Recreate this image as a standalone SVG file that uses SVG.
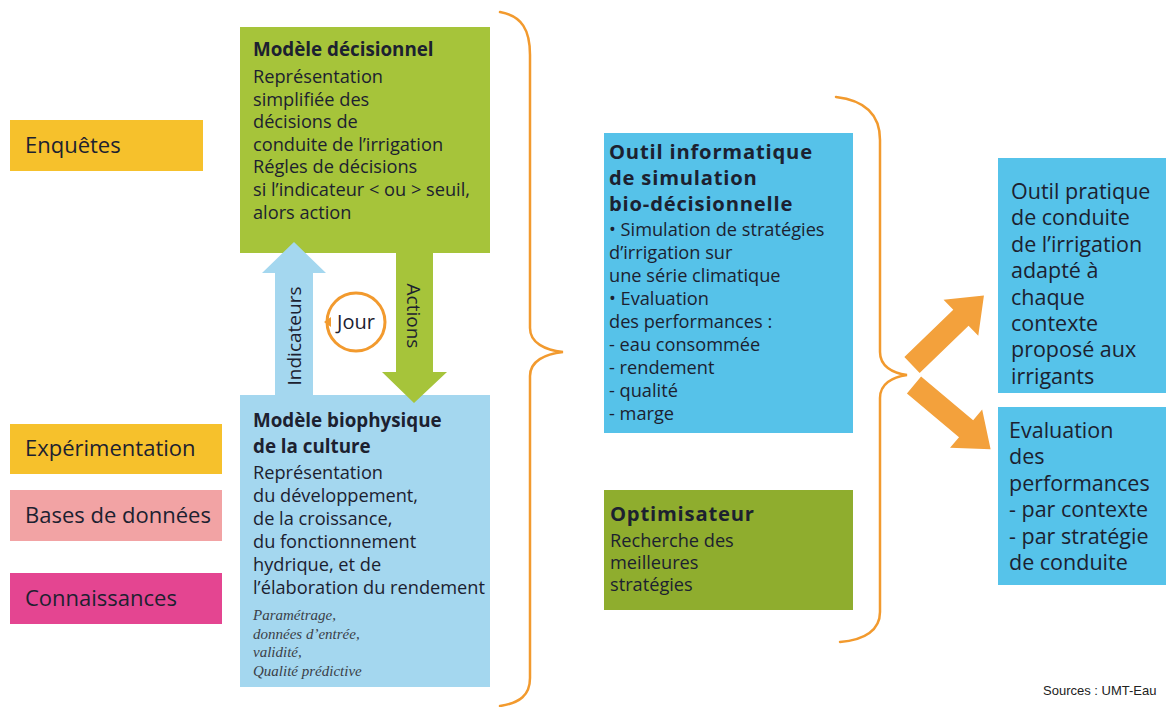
<svg xmlns="http://www.w3.org/2000/svg" width="1166" height="707" viewBox="0 0 1166 707">
  <style>
    text { font-family: "Open Sans", "Noto Sans", "DejaVu Sans", sans-serif; fill: #1c2130; font-weight: 500; }
    .lbl { font-size: 22px; }
    .h { font-size: 18.8px; font-weight: 700; }
    .h2 { font-size: 20.2px; font-weight: 700; letter-spacing: 0.8px; }
    .t { font-size: 18.2px; }
    .tr { font-size: 21.5px; }
    .it { font-family: "Liberation Serif", "DejaVu Serif", serif; font-style: italic; font-size: 15px; fill: #3b3f48; font-weight: 400; }
    .src { font-family: "Liberation Sans", Arial, sans-serif; font-size: 13px; fill: #222; font-weight: 400; }
    .brace { fill: none; stroke: #f29a2e; stroke-width: 2.5; stroke-linecap: round; }
    .oarrow { fill: #f3a13c; }
  </style>
  <defs>
    <polygon id="fatArrow" points="0,-11 68,-11 68,-25 100,0 68,25 68,11 0,11"/>
  </defs>

  <rect width="1166" height="707" fill="#ffffff"/>

  <!-- data sources -->
  <g id="enquetes">
    <rect x="10" y="120" width="193" height="51" fill="#f6c12c"/>
    <text class="lbl" x="25" y="153">Enquêtes</text>
  </g>
  <g id="experimentation">
    <rect x="10" y="424" width="212" height="50" fill="#f6c12c"/>
    <text class="lbl" x="25" y="456">Expérimentation</text>
  </g>
  <g id="bases">
    <rect x="10" y="490" width="212" height="51" fill="#f2a3a4"/>
    <text class="lbl" x="25" y="523">Bases de données</text>
  </g>
  <g id="connaissances">
    <rect x="10" y="573" width="212" height="51" fill="#e44591"/>
    <text class="lbl" x="25" y="606">Connaissances</text>
  </g>

  <!-- decision model -->
  <g id="modele-decisionnel">
    <rect x="240" y="27" width="250" height="226" fill="#a6c43a"/>
    <text class="h" x="253" y="56">Modèle décisionnel</text>
    <text class="t" x="253" y="83">Représentation</text>
    <text class="t" x="253" y="106">simplifiée des</text>
    <text class="t" x="253" y="128">décisions de</text>
    <text class="t" x="253" y="151">conduite de l’irrigation</text>
    <text class="t" x="253" y="173">Régles de décisions</text>
    <text class="t" x="253" y="196">si l’indicateur &lt; ou &gt; seuil,</text>
    <text class="t" x="253" y="219">alors action</text>
  </g>

  <!-- crop model -->
  <g id="modele-biophysique">
    <rect x="240" y="395" width="250" height="292" fill="#a4d7ef"/>
    <text class="h" x="253" y="427">Modèle biophysique</text>
    <text class="h" x="253" y="453">de la culture</text>
    <text class="t" x="253" y="479">Représentation</text>
    <text class="t" x="253" y="502">du développement,</text>
    <text class="t" x="253" y="525">de la croissance,</text>
    <text class="t" x="253" y="548">du fonctionnement</text>
    <text class="t" x="253" y="571">hydrique, et de</text>
    <text class="t" x="253" y="594">l’élaboration du rendement</text>
    <text class="it" x="253" y="620">Paramétrage,</text>
    <text class="it" x="253" y="638.5">données d’entrée,</text>
    <text class="it" x="253" y="657">validité,</text>
    <text class="it" x="253" y="675.5">Qualité prédictive</text>
  </g>

  <!-- daily loop -->
  <g id="jour">
    <circle cx="356" cy="322" r="29" fill="#ffffff" stroke="#f29a2e" stroke-width="3"/>
    <polygon points="324,322 331,317 331,327" fill="#f29a2e"/>
    <text x="356" y="329" text-anchor="middle" font-size="20">Jour</text>
  </g>

  <!-- simulation tool -->
  <g id="outil-simulation">
    <rect x="604" y="133" width="249" height="300" fill="#56c2e9"/>
    <text class="h2" x="609" y="159">Outil informatique</text>
    <text class="h2" x="609" y="185">de simulation</text>
    <text class="h2" x="609" y="211">bio-décisionnelle</text>
    <text class="t" x="609" y="236">• Simulation de stratégies</text>
    <text class="t" x="609" y="259">d’irrigation sur</text>
    <text class="t" x="609" y="282">une série climatique</text>
    <text class="t" x="609" y="305">• Evaluation</text>
    <text class="t" x="609" y="328">des performances :</text>
    <text class="t" x="609" y="351">- eau consommée</text>
    <text class="t" x="609" y="374">- rendement</text>
    <text class="t" x="609" y="397">- qualité</text>
    <text class="t" x="609" y="420">- marge</text>
  </g>

  <!-- optimiser -->
  <g id="optimisateur">
    <rect x="604" y="490" width="249" height="120" fill="#8fad2e"/>
    <text class="h2" x="610" y="521">Optimisateur</text>
    <text class="t" x="610" y="547">Recherche des</text>
    <text class="t" x="610" y="569">meilleures</text>
    <text class="t" x="610" y="591">stratégies</text>
  </g>

  <!-- outputs -->
  <g id="outil-pratique">
    <rect x="998" y="158" width="168" height="235" fill="#56c3ea"/>
    <text class="tr" x="1011" y="199">Outil pratique</text>
    <text class="tr" x="1011" y="225.4">de conduite</text>
    <text class="tr" x="1011" y="251.8">de l’irrigation</text>
    <text class="tr" x="1011" y="278.2">adapté à</text>
    <text class="tr" x="1011" y="304.6">chaque</text>
    <text class="tr" x="1011" y="331">contexte</text>
    <text class="tr" x="1011" y="357.4">proposé aux</text>
    <text class="tr" x="1011" y="383.8">irrigants</text>
  </g>
  <g id="evaluation">
    <rect x="998" y="407" width="168" height="178" fill="#56c3ea"/>
    <text class="tr" x="1009" y="438">Evaluation</text>
    <text class="tr" x="1009" y="464.4">des</text>
    <text class="tr" x="1009" y="490.8">performances</text>
    <text class="tr" x="1009" y="517.2">- par contexte</text>
    <text class="tr" x="1009" y="543.6">- par stratégie</text>
    <text class="tr" x="1009" y="570">de conduite</text>
  </g>

  <!-- connectors -->
  <g id="connectors">
    <!-- indicators: crop model to decision model -->
    <polygon points="275,395 275,273 262,273 294,242 326,273 313,273 313,395" fill="#a4d7ef"/>
    <text x="0" y="0" font-size="19" text-anchor="middle" transform="translate(301,336) rotate(-90)">Indicateurs</text>
    <!-- actions: decision model to crop model -->
    <polygon points="396,253 433,253 433,372 447,372 414,403 382,372 396,372" fill="#a6c43a"/>
    <text x="0" y="0" font-size="19" text-anchor="middle" transform="translate(407,316) rotate(90)">Actions</text>
    <!-- grouping braces -->
    <path class="brace" d="M 500 12 C 522 16, 530 30, 530 55 L 530 328 C 530 343, 545 350, 563 352 C 545 354, 530 361, 530 376 L 530 678 C 530 695, 520 703, 500 706"/>
    <path class="brace" d="M 836 97 C 862 100, 880 112, 880 140 L 880 352 C 880 366, 892 373, 907 375 C 892 377, 880 384, 880 398 L 880 612 C 880 630, 865 640, 840 642"/>
    <!-- output arrows -->
    <use href="#fatArrow" class="oarrow" transform="translate(912,365) rotate(-44)"/>
    <use href="#fatArrow" class="oarrow" transform="translate(914,385) rotate(40)"/>
  </g>

  <text class="src" x="1043" y="695">Sources : UMT-Eau</text>
</svg>
